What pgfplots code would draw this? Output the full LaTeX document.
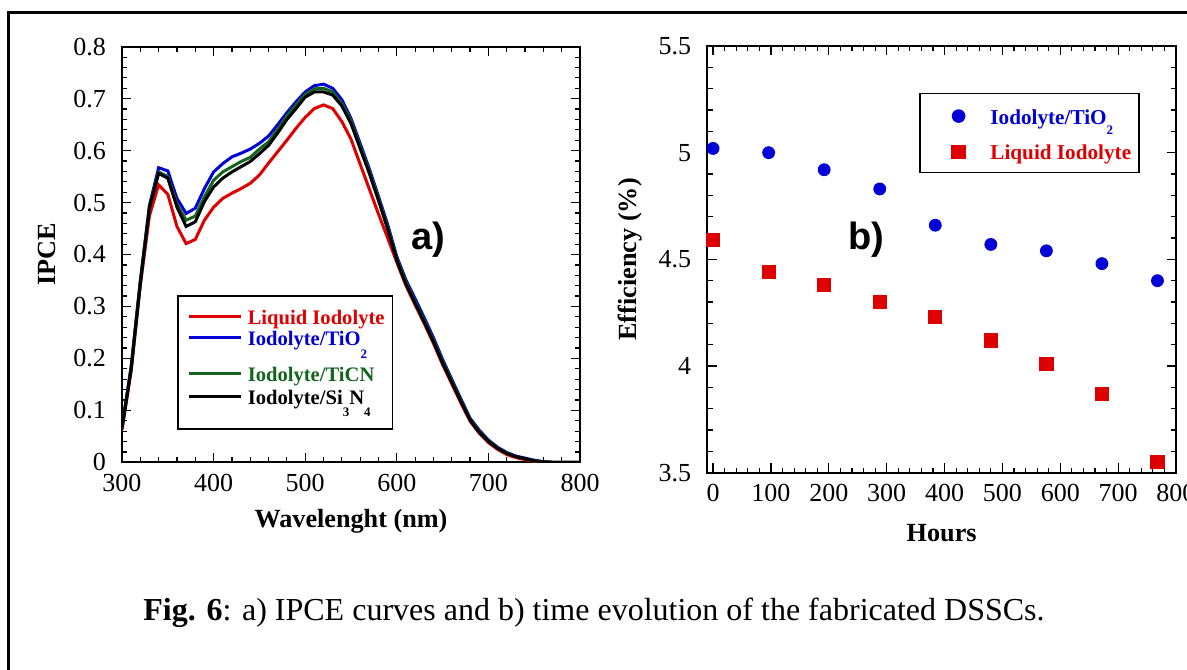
\documentclass[border=0pt]{standalone}
\usepackage{fontspec}
\setmainfont{Liberation Serif}
\newfontfamily\labsans{Liberation Sans}
\usepackage{pgfplots}
\pgfplotsset{compat=1.18}
\definecolor{cred}{RGB}{222,0,0}
\definecolor{cblue}{RGB}{0,0,215}
\definecolor{cgreen}{RGB}{20,100,30}
\newcommand{\sub}[2][-6.2pt]{\raisebox{#1}{\fontsize{6.5}{6.5}\selectfont #2}}
\begin{document}
\begin{tikzpicture}
\useasboundingbox (0,0) rectangle (593.5pt,-334.5pt);
\draw[line width=1.35pt] (4.3pt,-6.1pt) rectangle (700pt,-500pt);
\pgfplotsset{
  common/.style={
    scale only axis,
    axis line style={line width=1pt},
    tick style={black, line width=0.6pt},
    major tick length=4.7pt,
    minor tick length=2.6pt,
    tick align=inside,
    /pgf/number format/assume math mode=true,
    tick label style={font=\rmfamily\fontsize{13}{15}\selectfont},
    xticklabel style={yshift=-2.3pt},
    yticklabel style={xshift=-4.5pt},
    label style={font=\bfseries\fontsize{13.1}{15}\selectfont},
    legend cell align=left,
    legend style={draw=black, line width=0.8pt, cells={anchor=base west}},
  }
}
\begin{axis}[common,
  at={(61pt,-231.15pt)}, anchor=south west,
  width=229pt, height=207.8pt,
  xmin=300, xmax=800, ymin=0, ymax=0.8,
  xtick={300,400,500,600,700,800},
  ytick={0,0.1,0.2,0.3,0.4,0.5,0.6,0.7,0.8},
  minor x tick num=4, minor y tick num=4,
  yticklabel style={/pgf/number format/fixed},
  xlabel={Wavelenght (nm)}, ylabel={IPCE},
  xlabel style={at={(axis description cs:0.5,-0.141)}, anchor=center},
  ylabel style={at={(axis description cs:-0.164,0.5)}, anchor=center},
  legend style={at={(axis description cs:0.12,0.4026)}, anchor=north west,
    font=\bfseries\fontsize{10.3}{10.3}\selectfont, inner xsep=1.5pt, inner ysep=3.5pt, row sep=0pt,
    nodes={inner xsep=2.5pt, inner ysep=0pt}},
  legend image code/.code={\path (0pt,0pt); \draw[#1] (3.5pt,4pt) -- (29.5pt,4pt);},
]
\addplot[cred, line width=1.5pt] coordinates {
(300,0.063)(310,0.175)(320,0.340)(330,0.475)(340,0.534)(350,0.516)(360,0.454)(370,0.421)(380,0.429)(390,0.466)
(400,0.491)(410,0.508)(420,0.518)(430,0.527)(440,0.537)(450,0.553)(460,0.576)(470,0.598)(480,0.620)(490,0.643)
(500,0.664)(510,0.681)(520,0.688)(530,0.681)(540,0.656)(550,0.622)(560,0.574)(570,0.526)(580,0.478)(590,0.432)
(600,0.385)(610,0.340)(620,0.303)(630,0.267)(640,0.229)(650,0.188)(660,0.151)(670,0.114)(680,0.079)(690,0.056)
(700,0.038)(710,0.025)(720,0.015)(730,0.009)(740,0.005)(750,0.002)(760,0.000)(770,0)(780,0)(790,0)(800,0)};
\addlegendentry[text height=11pt, text depth=3.3pt]{\textcolor{cred}{Liquid Iodolyte}}
\addplot[cblue, line width=1.5pt] coordinates {
(300,0.068)(310,0.185)(320,0.350)(330,0.495)(340,0.567)(350,0.561)(360,0.508)(370,0.479)(380,0.489)(390,0.527)
(400,0.559)(410,0.575)(420,0.588)(430,0.595)(440,0.603)(450,0.614)(460,0.628)(470,0.650)(480,0.673)(490,0.694)
(500,0.713)(510,0.725)(520,0.728)(530,0.720)(540,0.698)(550,0.662)(560,0.614)(570,0.565)(580,0.512)(590,0.458)
(600,0.396)(610,0.351)(620,0.315)(630,0.278)(640,0.240)(650,0.198)(660,0.160)(670,0.122)(680,0.085)(690,0.062)
(700,0.043)(710,0.029)(720,0.019)(730,0.012)(740,0.008)(750,0.004)(760,0.001)(770,0)(780,0)(790,0)(800,0)};
\addlegendentry[text height=7.2pt, text depth=10.65pt]{\textcolor{cblue}{Iodolyte/TiO\sub{2}}}
\addplot[cgreen, line width=1.5pt] coordinates {
(300,0.066)(310,0.182)(320,0.347)(330,0.492)(340,0.559)(350,0.550)(360,0.497)(370,0.466)(380,0.474)(390,0.511)
(400,0.543)(410,0.559)(420,0.569)(430,0.579)(440,0.587)(450,0.603)(460,0.617)(470,0.641)(480,0.667)(490,0.688)
(500,0.708)(510,0.719)(520,0.720)(530,0.713)(540,0.691)(550,0.657)(560,0.609)(570,0.560)(580,0.508)(590,0.453)
(600,0.392)(610,0.347)(620,0.309)(630,0.273)(640,0.235)(650,0.194)(660,0.157)(670,0.119)(680,0.083)(690,0.060)
(700,0.041)(710,0.028)(720,0.018)(730,0.011)(740,0.007)(750,0.003)(760,0.001)(770,0)(780,0)(790,0)(800,0)};
\addlegendentry[text height=7.2pt, text depth=4.45pt]{\textcolor{cgreen}{Iodolyte/TiCN}}
\addplot[black, line width=1.5pt] coordinates {
(300,0.065)(310,0.180)(320,0.345)(330,0.490)(340,0.556)(350,0.547)(360,0.491)(370,0.454)(380,0.463)(390,0.502)
(400,0.530)(410,0.547)(420,0.559)(430,0.569)(440,0.579)(450,0.594)(460,0.610)(470,0.634)(480,0.660)(490,0.681)
(500,0.703)(510,0.713)(520,0.713)(530,0.707)(540,0.686)(550,0.652)(560,0.604)(570,0.556)(580,0.504)(590,0.449)
(600,0.389)(610,0.343)(620,0.306)(630,0.270)(640,0.232)(650,0.191)(660,0.154)(670,0.117)(680,0.081)(690,0.058)
(700,0.040)(710,0.027)(720,0.017)(730,0.011)(740,0.007)(750,0.003)(760,0.001)(770,0)(780,0)(790,0)(800,0)};
\addlegendentry[text height=7.2pt, text depth=8.5pt]{Iodolyte/Si\sub[-5.8pt]{3}N\sub[-5.8pt]{4}}
\node[font=\labsans\bfseries\fontsize{19}{19}\selectfont] at (axis cs:634,0.428) {a)};
\end{axis}
\begin{axis}[common,
  at={(353.65pt,-236.35pt)}, anchor=south west,
  width=234.35pt, height=213.35pt,
  xmin=-10, xmax=800, ymin=3.5, ymax=5.5,
  xtick={0,100,200,300,400,500,600,700,800},
  ytick={3.5,4,4.5,5,5.5},
  minor x tick num=4, minor y tick num=4,
  xlabel={Hours}, ylabel={Efficiency (\%)},
  xlabel style={at={(axis description cs:0.5,-0.141)}, anchor=center},
  ylabel style={at={(axis description cs:-0.165,0.5)}, anchor=center},
  legend style={at={(axis description cs:0.4517,0.8906)}, anchor=north west,
    font=\bfseries\fontsize{10.6}{10.6}\selectfont, inner xsep=1.5pt, inner ysep=1.5pt, row sep=0pt,
    nodes={inner xsep=2.5pt, inner ysep=0pt}},
  legend image code/.code={\path (0pt,0pt) (30.5pt,0pt); \draw[#1, mark repeat=2, mark phase=2] plot coordinates {(0pt,4pt) (17.5pt,4pt) (30.5pt,4pt)};},
]
\addplot[only marks, mark=*, mark size=3pt, cblue] coordinates {
(0,5.02)(96,5.00)(192,4.92)(288,4.83)(384,4.66)(480,4.57)(576,4.54)(672,4.48)(768,4.40)};
\addlegendentry[text height=13.8pt, text depth=10.65pt]{\textcolor{cblue}{Iodolyte/TiO\sub[-5.3pt]{2}}}
\addplot[only marks, mark=square*, mark size=3.3pt, cred] coordinates {
(0,4.59)(96,4.44)(192,4.38)(288,4.30)(384,4.23)(480,4.12)(576,4.01)(672,3.87)(768,3.55)};
\addlegendentry[text height=7.2pt, text depth=4.7pt]{\textcolor{cred}{Liquid Iodolyte}}
\node[font=\labsans\bfseries\fontsize{19}{19}\selectfont] at (axis cs:265,4.59) {b)};
\end{axis}
\node[font=\fontsize{16}{19}\selectfont] at (297pt,-306.5pt) {\textbf{Fig. 6}: a) IPCE curves and b) time evolution of the fabricated DSSCs.};
\end{tikzpicture}
\end{document}
